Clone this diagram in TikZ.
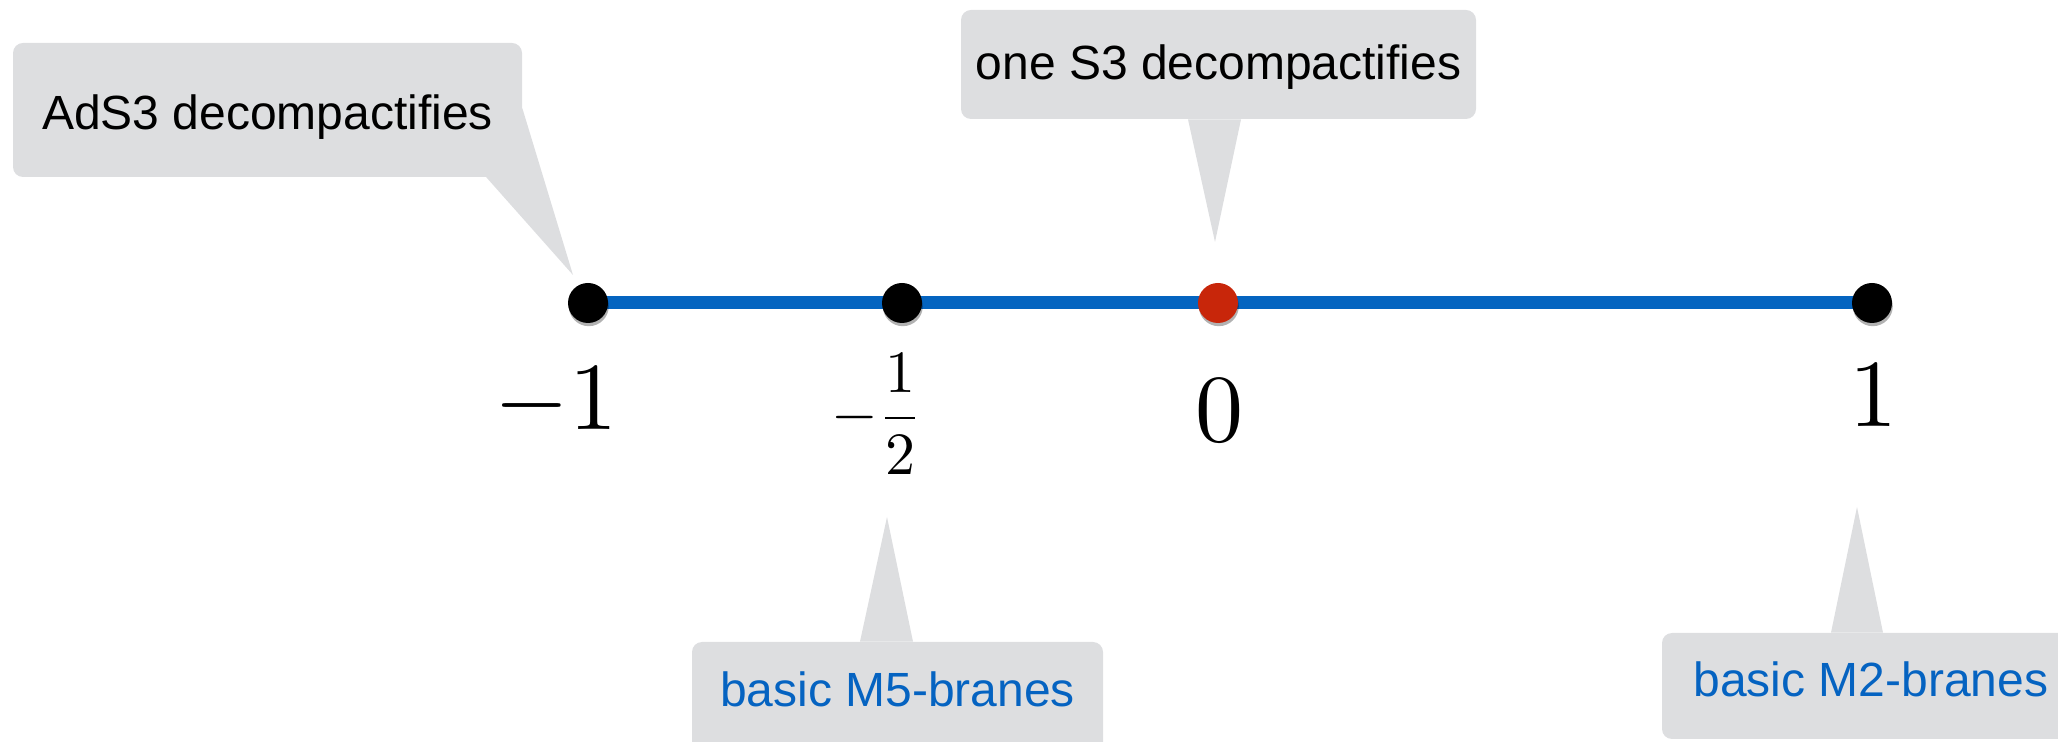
\documentclass[tikz,border=0pt]{standalone}
\usepackage[no-math]{fontspec}
\newfontfamily\callfont{Liberation Sans}
\usetikzlibrary{calc,shadows,backgrounds}
\definecolor{callgray}{RGB}{221,222,224}
\definecolor{lineblue}{RGB}{4,100,192}
\definecolor{labelblue}{RGB}{5,99,193}
\definecolor{dotred}{RGB}{200,38,10}
\tikzset{
  callbox/.style={fill=callgray, rounded corners=5pt, inner sep=0pt,
    font=\callfont\fontsize{24}{28}\selectfont, text depth=0pt},
  calltail/.style={fill=callgray},
  ptdot/.style={circle, minimum size=20pt, inner sep=0pt,
    drop shadow={shadow xshift=0.4pt, shadow yshift=-1.6pt, opacity=0.3, fill=black}},
  axisline/.style={draw=lineblue, line width=6.5pt},
  numlab/.style={inner sep=0pt, scale=4.8},
}
\begin{document}
\begin{tikzpicture}[x=0.5pt,y=-0.5pt]
\useasboundingbox (0,0) rectangle (2058,742);
\clip (0,0) rectangle (2058,742);
% points
\node[ptdot, fill=black] (d1) at (588,303) {};
\node[ptdot, fill=black] (d2) at (902,303) {};
\node[ptdot, fill=dotred] (d3) at (1218,303) {};
\node[ptdot, fill=black] (d4) at (1872,303) {};
\begin{scope}[on background layer]
  \draw[axisline] (d1.center) -- (d4.center);
\end{scope}
% number labels
\node[numlab, anchor=base west] (l1) at (493,430) {$-1$};
\node[inner sep=0pt, anchor=base west, scale=3] (l2) at (830,433) {$\displaystyle -\frac{1}{2}$};
\node[numlab, anchor=base] (l3) at (1219,442) {$0$};
\node[numlab, anchor=base] (l4) at (1873,427) {$1$};
% tips
\coordinate (tip1) at (573,275);
\coordinate (tip2) at (1215,242);
\coordinate (tip3) at (887,517);
\coordinate (tip4) at (1857,507);
% callouts
\node[callbox, minimum width=254.5pt, minimum height=67pt, text height=20pt] (c1) at (267.5,110) {AdS3 decompactifies};
\fill[calltail] ($(c1.south east)+(-36,0)$) -- ($(c1.south east)+(0,-69)$) -- (tip1) -- cycle;
\node[callbox, minimum width=257.5pt, minimum height=54.5pt, text height=15.5pt] (c2) at (1218.5,64.5) {one S3 decompactifies};
\fill[calltail] ($(c2.south)+(-30.5,0)$) -- ($(c2.south)+(22.5,0)$) -- (tip2) -- cycle;
\node[callbox, text=labelblue, minimum width=205.5pt, minimum height=55pt, text height=10pt] (c3) at (897.5,697) {basic M5-branes};
\fill[calltail] ($(c3.north)+(-37.5,0)$) -- ($(c3.north)+(15.5,0)$) -- (tip3) -- cycle;
\node[callbox, text=labelblue, minimum width=209pt, minimum height=53pt, text height=11pt] (c4) at (1871,686) {basic M2-branes};
\fill[calltail] ($(c4.north)+(-40,0)$) -- ($(c4.north)+(12,0)$) -- (tip4) -- cycle;
\end{tikzpicture}
\end{document}
